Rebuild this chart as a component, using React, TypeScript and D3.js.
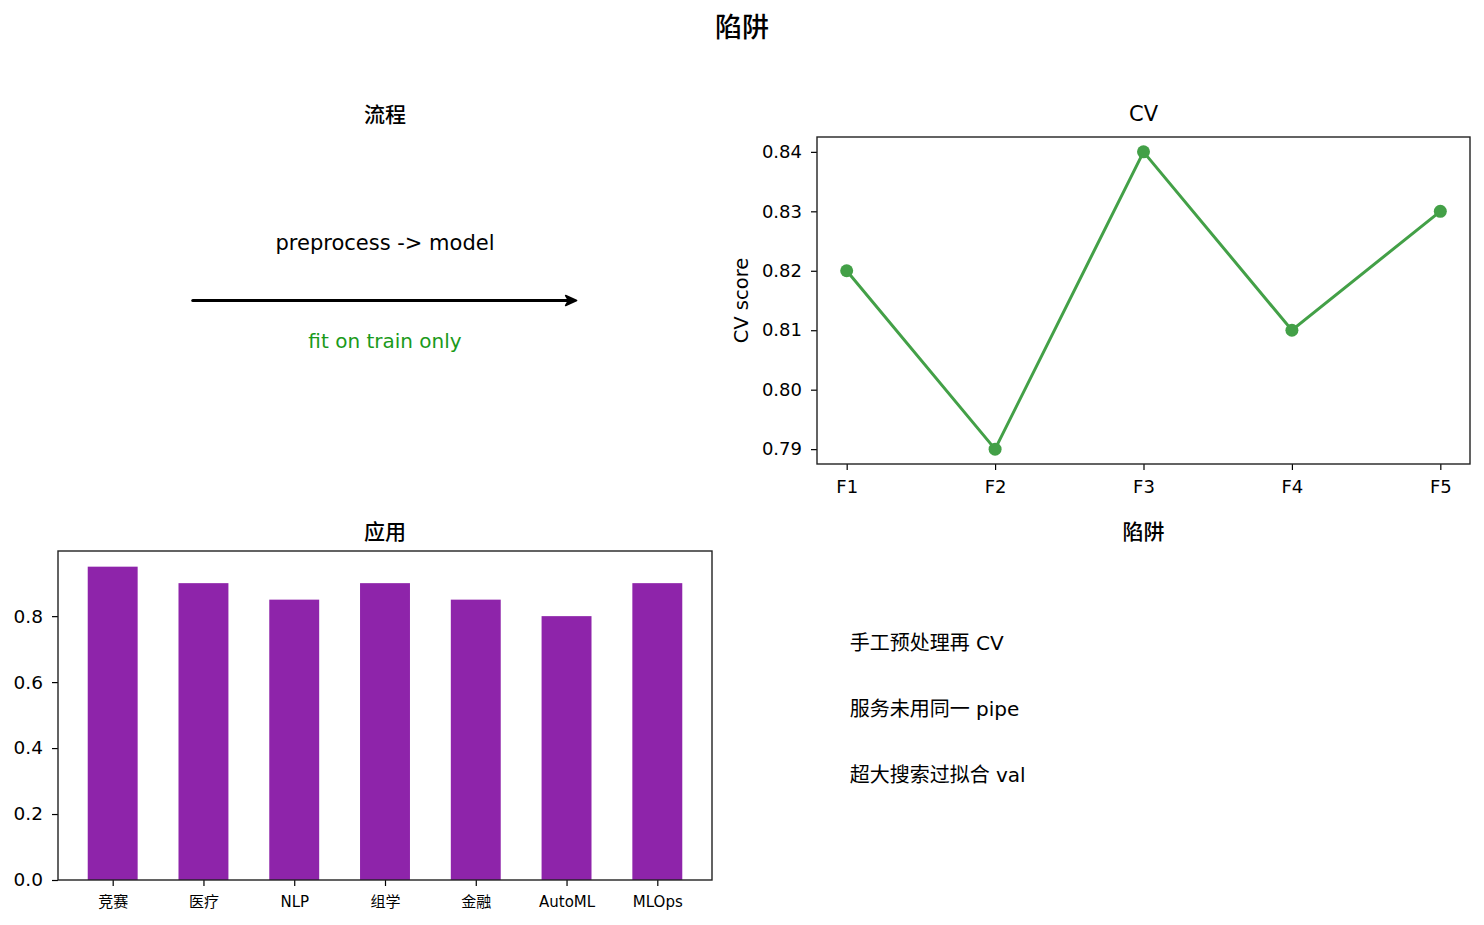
import React, { useEffect, useRef } from 'react';
import * as d3 from 'd3';

const figTitle = '陷阱';
const flowTitle = '流程';
const flowTop = 'preprocess -> model';
const flowBottom = 'fit on train only';

const cvTitle = 'CV';
const folds = ['F1', 'F2', 'F3', 'F4', 'F5'];
const cvScores = [0.82, 0.79, 0.84, 0.81, 0.83];
const cvTicks = [0.79, 0.8, 0.81, 0.82, 0.83, 0.84];

const appTitle = '应用';
const fields = ['竞赛', '医疗', 'NLP', '组学', '金融', 'AutoML', 'MLOps'];
const fieldScores = [0.95, 0.9, 0.85, 0.9, 0.85, 0.8, 0.9];
const appTicks = [0, 0.2, 0.4, 0.6, 0.8];

const pitfallTitle = '陷阱';
const pitfalls = ['手工预处理再 CV', '服务未用同一 pipe', '超大搜索过拟合 val'];
const pitfallY = [0.72, 0.52, 0.32];

const FONT = "'DejaVu Sans', 'Noto Sans CJK SC', sans-serif";
const W = 1484;
const H = 925;

const App: React.FC = () => {
  const svgRef = useRef<SVGSVGElement | null>(null);

  useEffect(() => {
    const svg = d3.select(svgRef.current);
    svg.selectAll('*').remove();
    svg.attr('font-family', FONT);

    const left = { x0: 58, x1: 712 };
    const right = { x0: 817, x1: 1470 };
    const top = { y0: 137, y1: 464 };
    const bottom = { y0: 551, y1: 880 };

    svg.append('text')
      .attr('x', W / 2).attr('y', 28).attr('dy', '0.35em')
      .attr('text-anchor', 'middle')
      .attr('font-size', 27).attr('font-weight', 500)
      .text(figTitle);

    // flow panel, axis off
    const fx = d3.scaleLinear().domain([0, 1]).range([left.x0, left.x1]);
    const fy = d3.scaleLinear().domain([0, 1]).range([top.y1, top.y0]);
    const flow = svg.append('g');
    flow.append('text')
      .attr('x', fx(0.5)).attr('y', 115).attr('dy', '0.35em')
      .attr('text-anchor', 'middle').attr('font-size', 21).attr('font-weight', 500)
      .text(flowTitle);
    flow.append('text')
      .attr('x', fx(0.5)).attr('y', fy(0.676)).attr('dy', '0.35em')
      .attr('text-anchor', 'middle').attr('font-size', 21)
      .text(flowTop);
    flow.append('text')
      .attr('x', fx(0.5)).attr('y', fy(0.376)).attr('dy', '0.35em')
      .attr('text-anchor', 'middle').attr('font-size', 20).attr('fill', '#1a9a1a')
      .text(flowBottom);
    const ax0 = fx(0.206);
    const ax1 = fx(0.793);
    const ay = fy(0.5);
    flow.append('line')
      .attr('x1', ax0).attr('x2', ax1 - 4).attr('y1', ay).attr('y2', ay)
      .attr('stroke', '#000').attr('stroke-width', 3).attr('stroke-linecap', 'round');
    flow.append('path')
      .attr('d', `M${ax1},${ay} L${ax1 - 11},${ay - 5} L${ax1 - 8},${ay} L${ax1 - 11},${ay + 5} Z`)
      .attr('fill', '#000').attr('stroke', '#000').attr('stroke-width', 1.5)
      .attr('stroke-linejoin', 'round');

    // CV line chart
    const cx = d3.scaleLinear().domain([-0.2, 4.2]).range([right.x0, right.x1]);
    const cy = d3.scaleLinear().domain([0.7875, 0.8425]).range([top.y1, top.y0]);
    const cv = svg.append('g');
    cv.append('text')
      .attr('x', (right.x0 + right.x1) / 2).attr('y', 114).attr('dy', '0.35em')
      .attr('text-anchor', 'middle').attr('font-size', 21)
      .text(cvTitle);
    const cxAxis = d3.axisBottom(cx).tickValues(d3.range(folds.length))
      .tickFormat((d) => folds[d as number]).tickSize(6).tickPadding(8);
    const cyAxis = d3.axisLeft(cy).tickValues(cvTicks)
      .tickFormat(d3.format('.2f')).tickSize(6).tickPadding(9);
    cv.append('g').attr('transform', `translate(0,${top.y1})`).call(cxAxis)
      .call((g) => g.select('.domain').remove())
      .selectAll('text').attr('font-size', 18).attr('dy', '0.85em');
    cv.append('g').attr('transform', `translate(${right.x0},0)`).call(cyAxis)
      .call((g) => g.select('.domain').remove())
      .selectAll('text').attr('font-size', 18);
    cv.selectAll('.tick line').attr('stroke', '#000').attr('stroke-width', 1.2);
    cv.selectAll('.tick text').attr('fill', '#000').attr('font-family', FONT);
    cv.append('rect')
      .attr('x', right.x0).attr('y', top.y0)
      .attr('width', right.x1 - right.x0).attr('height', top.y1 - top.y0)
      .attr('fill', 'none').attr('stroke', '#222').attr('stroke-width', 1.4);
    cv.append('text')
      .attr('transform', `translate(${right.x0 - 76},${(top.y0 + top.y1) / 2}) rotate(-90)`)
      .attr('text-anchor', 'middle').attr('dy', '0.35em').attr('font-size', 19.5)
      .text('CV score');
    const line = d3.line<number>().x((_, i) => cx(i)).y((d) => cy(d));
    cv.append('path').datum(cvScores)
      .attr('d', line).attr('fill', 'none')
      .attr('stroke', '#43a047').attr('stroke-width', 3);
    cv.selectAll('circle.pt').data(cvScores).enter().append('circle')
      .attr('cx', (_, i) => cx(i)).attr('cy', (d) => cy(d)).attr('r', 6.5)
      .attr('fill', '#43a047');
    cv.append('text')
      .attr('x', (right.x0 + right.x1) / 2).attr('y', 532).attr('dy', '0.35em')
      .attr('text-anchor', 'middle').attr('font-size', 21).attr('font-weight', 500)
      .text(pitfallTitle);

    // application bar chart
    const bw = 0.55;
    const bx = d3.scaleLinear().domain([-0.6025, 6.6025]).range([left.x0, left.x1]);
    const by = d3.scaleLinear().domain([0, 0.9975]).range([bottom.y1, bottom.y0]);
    const app = svg.append('g');
    app.append('text')
      .attr('x', (left.x0 + left.x1) / 2).attr('y', 532).attr('dy', '0.35em')
      .attr('text-anchor', 'middle').attr('font-size', 21).attr('font-weight', 500)
      .text(appTitle);
    app.selectAll('rect.bar').data(fieldScores).enter().append('rect')
      .attr('x', (_, i) => bx(i - bw / 2))
      .attr('width', bx(bw) - bx(0))
      .attr('y', (d) => by(d))
      .attr('height', (d) => by(0) - by(d))
      .attr('fill', '#8e24aa');
    const bxAxis = d3.axisBottom(bx).tickValues(d3.range(fields.length))
      .tickFormat((d) => fields[d as number]).tickSize(6).tickPadding(7);
    const byAxis = d3.axisLeft(by).tickValues(appTicks)
      .tickFormat(d3.format('.1f')).tickSize(6).tickPadding(9);
    app.append('g').attr('transform', `translate(0,${bottom.y1})`).call(bxAxis)
      .call((g) => g.select('.domain').remove())
      .selectAll('text').attr('font-size', 15).attr('dy', '0.9em');
    app.append('g').attr('transform', `translate(${left.x0},0)`).call(byAxis)
      .call((g) => g.select('.domain').remove())
      .selectAll('text').attr('font-size', 18.5);
    app.selectAll('.tick line').attr('stroke', '#000').attr('stroke-width', 1.2);
    app.selectAll('.tick text').attr('fill', '#000').attr('font-family', FONT);
    app.append('rect')
      .attr('x', left.x0).attr('y', bottom.y0)
      .attr('width', left.x1 - left.x0).attr('height', bottom.y1 - bottom.y0)
      .attr('fill', 'none').attr('stroke', '#222').attr('stroke-width', 1.4);

    // pitfalls text panel, axis off
    const px = d3.scaleLinear().domain([0, 1]).range([right.x0, right.x1]);
    const py = d3.scaleLinear().domain([0, 1]).range([bottom.y1, bottom.y0]);
    svg.append('g').selectAll('text').data(pitfalls).enter().append('text')
      .attr('x', px(0.05)).attr('y', (_, i) => py(pitfallY[i])).attr('dy', '0.35em')
      .attr('font-size', 20)
      .text((d) => d);
  }, []);

  return (
    <div style={{ position: 'absolute', left: 0, top: 0, background: '#fff' }}>
      <svg ref={svgRef} width={W} height={H} style={{ display: 'block' }} />
    </div>
  );
};

export default App;
